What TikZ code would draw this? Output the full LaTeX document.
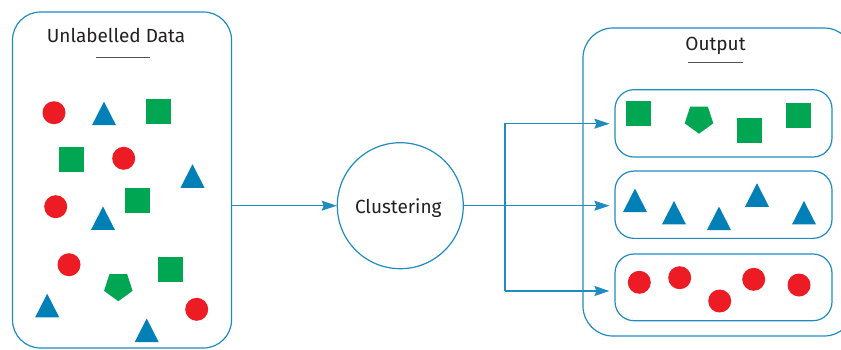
\documentclass[tikz,border=0pt]{standalone}
\usepackage{fontspec}
\setmainfont{Fira Sans}
\usetikzlibrary{arrows.meta,shapes.geometric}
\definecolor{lineblue}{RGB}{30,140,192}
\definecolor{tblue}{RGB}{0,128,182}
\definecolor{dotred}{RGB}{237,28,36}
\definecolor{sqgreen}{RGB}{0,166,81}
\definecolor{ink}{RGB}{35,31,32}
\definecolor{rulegray}{RGB}{80,80,80}

\begin{document}
\begin{tikzpicture}[x=1pt,y=-1pt,
  frame/.style={draw=lineblue, line width=1.2pt, inner sep=0pt},
  conn/.style={draw=lineblue, line width=1.2pt, -{Stealth[length=15pt,width=10pt,inset=2pt]}},
  label/.style={text=ink, inner sep=0pt, anchor=base, font=\fontsize{19}{22}\selectfont},
  titlerule/.style={draw=rulegray, line width=1.3pt},
  dot/.style={circle, fill=dotred, minimum size=23pt, inner sep=0pt},
  sq/.style={rectangle, fill=sqgreen, minimum size=25pt, inner sep=0pt},
  pent/.style={regular polygon, regular polygon sides=5, shape border rotate=180,
               fill=sqgreen, minimum size=30pt, inner sep=0pt},
  tri/.pic={\fill[tblue] (-12,11.75) -- (12,11.75) -- (0,-11.75) -- cycle;}
  ]
\useasboundingbox (0,0) rectangle (841,349);
\clip (0,0) rectangle (841,349);

% input panel
\node[frame, rounded corners=28pt, minimum width=219pt, minimum height=336pt] (data) at (122,180) {};
\node[label] (datatitle) at (116,42.7) {Unlabelled Data};
\draw[titlerule] (95.7,57.6) -- (149.7,57.6);

\node[dot] (d1) at (54,112.7) {};
\node[dot] (d2) at (123.7,158.3) {};
\node[dot] (d3) at (55.7,206.7) {};
\node[dot] (d4) at (69,264.7) {};
\node[dot] (d5) at (196.7,309.3) {};
\node[sq] (s1) at (158.5,111.3) {};
\node[sq] (s2) at (71.5,159.3) {};
\node[sq] (s3) at (137.5,200.3) {};
\node[sq] (s4) at (170.5,269.3) {};
\node[pent] (p1) at (118.3,286.2) {};
\pic at (104,113.4) {tri};
\pic at (192.5,176) {tri};
\pic at (103,218.2) {tri};
\pic at (47.2,305.5) {tri};
\pic at (146.7,330.3) {tri};

% clustering step
\node[frame, circle, minimum size=126pt] (clu) at (400.3,205.7) {};
\node[label] (clutext) at (398.3,213.3) {Clustering};

% output panel
\node[frame, rounded corners=30pt, minimum width=271pt, minimum height=308pt] (out) at (718.5,182) {};
\node[label] (outtitle) at (715.5,50.7) {Output};
\draw[titlerule] (688.3,62.3) -- (742.7,62.3);

\node[frame, rounded corners=19pt, minimum width=217pt, minimum height=67.3pt] (g1) at (723.5,123.35) {};
\node[frame, rounded corners=19pt, minimum width=217pt, minimum height=67.3pt] (g2) at (723.5,204.7) {};
\node[frame, rounded corners=19pt, minimum width=217pt, minimum height=66.7pt] (g3) at (723.5,287.35) {};

% group 1: squares and pentagon
\node[sq] (gs1) at (638.5,113.3) {};
\node[pent] (gp1) at (699,118.7) {};
\node[sq] (gs2) at (749.5,130.3) {};
\node[sq] (gs3) at (798.5,115.3) {};

% group 2: triangles
\pic at (635,200.3) {tri};
\pic at (674,212.7) {tri};
\pic at (719,218.3) {tri};
\pic at (757,195) {tri};
\pic at (804,212.7) {tri};

% group 3: circles
\node[dot] (gd1) at (639.3,282.3) {};
\node[dot] (gd2) at (679.7,277.7) {};
\node[dot] (gd3) at (719.7,301) {};
\node[dot] (gd4) at (753.7,279.3) {};
\node[dot] (gd5) at (799,285) {};

% connectors
\draw[conn] (clu.west -| data.east) -- (clu.west);
\draw[conn, shorten >=5pt] (clu.east) -- (clu.east -| g2.west);
\coordinate (b1) at (505,123.7);
\coordinate (b3) at (505,291);
\draw[conn, shorten >=5pt] (b3) -- (b1) -- (b1 -| g1.west);
\draw[conn, shorten >=5pt] (b3) -- (b3 -| g3.west);
\end{tikzpicture}
\end{document}
